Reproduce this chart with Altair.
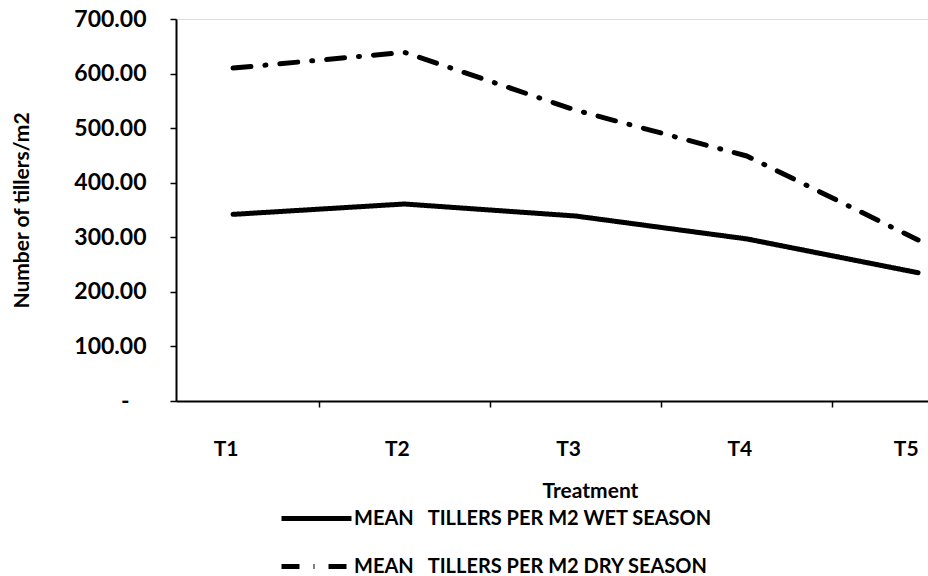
import altair as alt
import pandas as pd

treatments = ["T1", "T2", "T3", "T4", "T5"]
wet_season = [342, 361, 339, 297, 235]
dry_season = [610, 639, 533, 449, 295]
series_names = [
    "MEAN\u00a0\u00a0\u00a0TILLERS PER M2 WET SEASON",
    "MEAN\u00a0\u00a0\u00a0TILLERS PER M2 DRY SEASON",
]
y_ticks = [0, 100, 200, 300, 400, 500, 600, 700]
x_axis_values = [1, 1.5, 2, 2.5, 3, 3.5, 4, 4.5, 5]

rows = []
for i, t in enumerate(treatments):
    rows.append({"idx": i + 1, "Treatment": t, "value": wet_season[i], "series": series_names[0]})
    rows.append({"idx": i + 1, "Treatment": t, "value": dry_season[i], "series": series_names[1]})
df = pd.DataFrame(rows)

FONT = "Lato"
BLANK = "\u2800"

chart = (
    alt.Chart(df)
    .mark_line(strokeWidth=5, strokeCap="round", strokeJoin="round", color="black")
    .encode(
        x=alt.X(
            "idx:Q",
            scale=alt.Scale(domain=[0.667, 5.058], nice=False, zero=False),
            axis=alt.Axis(
                title="Treatment",
                values=x_axis_values,
                labelExpr="datum.value === 5 ? 'T5' : (datum.value % 1 === 0 ? 'T' + datum.value + '" + BLANK + "' : '')",
                labelAlign={"condition": {"test": "datum.value === 5", "value": "right"}, "value": "center"},
                labelOverlap=False,
                labelFlush=False,
                grid=False,
                domainColor="black",
                domainWidth=2,
                tickColor="black",
                tickWidth=1.5,
                tickSize=6,
                tickOpacity={"condition": {"test": "datum.value % 1 === 0", "value": 0}, "value": 1},
                labelFont=FONT,
                labelFontSize=21,
                labelFontWeight="bold",
                labelColor="black",
                labelPadding=31,
                titleFont=FONT,
                titleFontSize=21,
                titleFontWeight="bold",
                titleColor="black",
                titleX=414,
                titleY=96,
                titleBaseline="alphabetic",
            ),
        ),
        y=alt.Y(
            "value:Q",
            scale=alt.Scale(domain=[0, 700], nice=False),
            axis=alt.Axis(
                title="Number of tillers/m2",
                values=y_ticks,
                labelExpr="datum.value === 0 ? '-" + BLANK + "' : format(datum.value, '.2f')",
                grid=False,
                domainColor="black",
                domainWidth=2,
                tickColor="black",
                tickWidth=1.5,
                tickSize=6,
                labelFont=FONT,
                labelFontSize=23,
                labelFontWeight="bold",
                labelColor="black",
                labelPadding=24,
                titleFont=FONT,
                titleFontSize=21,
                titleFontWeight="bold",
                titleColor="black",
                titleX=-154,
                titleY=191,
                titleAlign="center",
                titleBaseline="middle",
            ),
        ),
        strokeDash=alt.StrokeDash(
            "series:N",
            scale=alt.Scale(domain=series_names, range=[[1, 0], [18, 14, 1, 14]]),
            sort=series_names,
            legend=alt.Legend(
                title=None,
                orient="none",
                legendX=103,
                legendY=462,
                direction="vertical",
                symbolType="stroke",
                symbolSize=4900,
                symbolStrokeWidth=5,
                symbolStrokeColor="black",
                labelFont=FONT,
                labelFontSize=20,
                labelFontWeight="bold",
                labelColor="black",
                labelLimit=0,
                labelOffset=0,
                rowPadding=-35,
                padding=0,
            ),
        ),
        detail="series:N",
    )
    .properties(
        width=752,
        height=382,
        autosize=alt.AutoSizeParams(type="none"),
        padding={"left": 176, "top": 19, "right": 0, "bottom": 175},
    )
    .configure_view(stroke=None)
    .configure(background="white")
)

chart.save("out.html", embed_options={"renderer": "svg", "actions": False})
